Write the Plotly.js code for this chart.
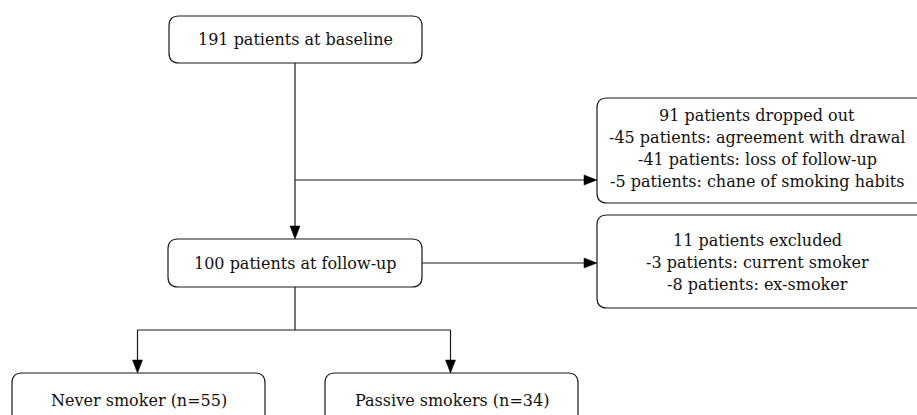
<!DOCTYPE html>
<html>
<head>
<meta charset="utf-8">
<script src="https://cdn.plot.ly/plotly-3.0.1.min.js"></script>
<style>html,body{margin:0;padding:0;background:#fff;}#chart{width:917px;height:415px;}</style>
</head>
<body>
<div id="chart"></div>
<script>
// ---- Data (flowchart content) ----
const baselineText = '191 patients at baseline';
const followupText = '100 patients at follow-up';
const droppedLines = ['91 patients dropped out', '-45 patients: agreement with drawal', '-41 patients: loss of follow-up', '-5 patients: chane of smoking habits'];
const excludedLines = ['11 patients excluded', '-3 patients: current smoker', '-8 patients: ex-smoker'];
const groupLabels = ['Never smoker (n=55)', 'Passive smokers (n=34)'];

// ---- Layout geometry (pixels, y downward) ----
const W = 917, H = 415;
const lineC = '#1a1a1a';
const FONT = {family: 'DejaVu Serif, serif', size: 16, color: '#111'};
const R = 10;
const boxBase = {x0: 169, x1: 422, y0: 16, y1: 63};
const boxFollow = {x0: 168, x1: 422, y0: 239, y1: 287};
const boxDrop = {x0: 597, x1: 930, y0: 98, y1: 203};
const boxExcl = {x0: 597, x1: 930, y0: 215, y1: 308};
const boxGroups = [{x0: 12, x1: 265, y0: 373, y1: 440}, {x0: 325, x1: 578, y0: 373, y1: 440}];
const spineX = 295, branchY = 180, splitY = 330;
const lineGap = 22;
const AL = 13, AW = 5;

function rr(b, r) {
  const {x0, x1, y0, y1} = b;
  return `M${x0 + r},${y0} L${x1 - r},${y0} Q${x1},${y0} ${x1},${y0 + r} L${x1},${y1 - r} Q${x1},${y1} ${x1 - r},${y1} ` +
         `L${x0 + r},${y1} Q${x0},${y1} ${x0},${y1 - r} L${x0},${y0 + r} Q${x0},${y0} ${x0 + r},${y0} Z`;
}
const shapes = [];
function boxShape(b) {
  shapes.push({type: 'path', xref: 'x', yref: 'y', path: rr(b, R), line: {color: lineC, width: 1.2}, fillcolor: 'rgba(0,0,0,0)'});
}
function seg(x0, y0, x1, y1) {
  shapes.push({type: 'line', xref: 'x', yref: 'y', x0, y0, x1, y1, line: {color: lineC, width: 1.2}});
}
function headDown(x, y) {
  shapes.push({type: 'path', xref: 'x', yref: 'y', path: `M${x},${y} L${x - AW},${y - AL} L${x + AW},${y - AL} Z`, fillcolor: '#000', line: {color: '#000', width: 0.5}});
}
function headRight(x, y) {
  shapes.push({type: 'path', xref: 'x', yref: 'y', path: `M${x},${y} L${x - AL},${y - AW} L${x - AL},${y + AW} Z`, fillcolor: '#000', line: {color: '#000', width: 0.5}});
}

[boxBase, boxFollow, boxDrop, boxExcl, ...boxGroups].forEach(boxShape);

// connectors
seg(spineX, boxBase.y1, spineX, boxFollow.y0 - AL + 1); headDown(spineX, boxFollow.y0);
seg(spineX, branchY, boxDrop.x0 - AL + 1, branchY); headRight(boxDrop.x0, branchY);
const followMidY = (boxFollow.y0 + boxFollow.y1) / 2;
seg(boxFollow.x1, followMidY, boxExcl.x0 - AL + 1, followMidY); headRight(boxExcl.x0, followMidY);
seg(spineX, boxFollow.y1, spineX, splitY);
const gx = boxGroups.map(b => (b.x0 + b.x1) / 2 - 1);
seg(gx[0], splitY, gx[1], splitY);
gx.forEach(x => { seg(x, splitY, x, boxGroups[0].y0 - AL + 1); headDown(x, boxGroups[0].y0); });

// text
const annotations = [];
function txt(t, x, y) {
  annotations.push({text: t, x, y, xref: 'x', yref: 'y', showarrow: false, xanchor: 'center', yanchor: 'middle', font: FONT});
}
txt(baselineText, (boxBase.x0 + boxBase.x1) / 2, (boxBase.y0 + boxBase.y1) / 2);
txt(followupText, (boxFollow.x0 + boxFollow.x1) / 2, followMidY);
droppedLines.forEach((t, i) => txt(t, 757, 115 + i * lineGap));
excludedLines.forEach((t, i) => txt(t, 757, 240 + i * lineGap));
groupLabels.forEach((t, i) => txt(t, (boxGroups[i].x0 + boxGroups[i].x1) / 2, 400));

const layout = {
  width: W, height: H,
  margin: {l: 0, r: 0, t: 0, b: 0},
  paper_bgcolor: '#fff', plot_bgcolor: '#fff',
  showlegend: false,
  xaxis: {range: [0, W], visible: false, fixedrange: true},
  yaxis: {range: [H, 0], visible: false, fixedrange: true},
  shapes, annotations
};
Plotly.newPlot('chart', [{x: [], y: [], type: 'scatter', mode: 'markers', hoverinfo: 'skip'}], layout, {staticPlot: true, displayModeBar: false});
</script>
</body>
</html>
